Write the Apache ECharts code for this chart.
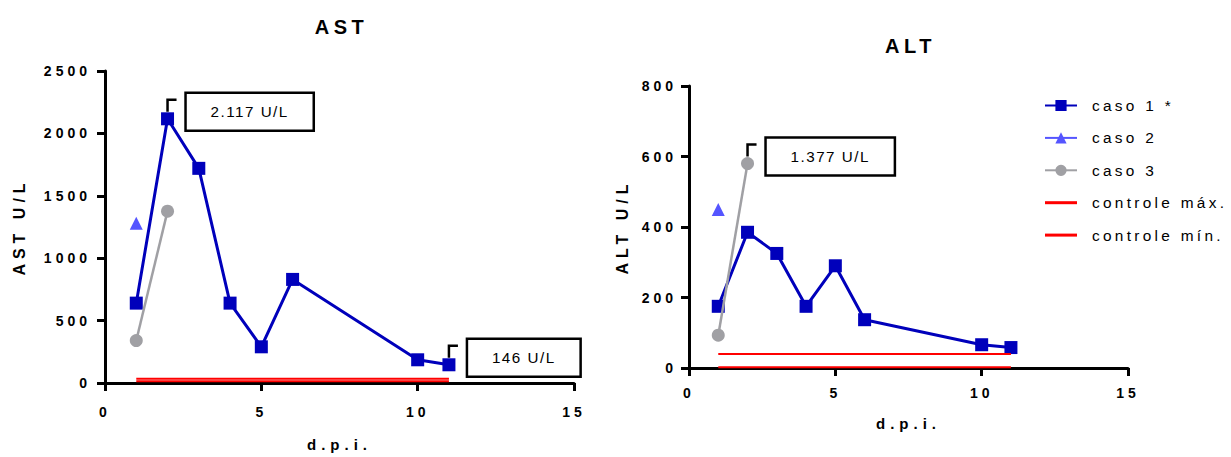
<!DOCTYPE html>
<html>
<head>
<meta charset="utf-8">
<title>AST / ALT</title>
<script src="https://cdn.jsdelivr.net/npm/echarts@6/dist/echarts.min.js"></script>
<style>
  html, body { margin: 0; padding: 0; background: #fff; }
  #chart { width: 1231px; height: 457px; }
  /* wide tracking on the lettering, keyed by font size */
  #chart text[style*="20px"] { letter-spacing: 4.5px; }
  #chart text[style*="16px"] { letter-spacing: 5px; }
  #chart text[style*="15px"] { letter-spacing: 5px; }
  #chart text[style*="14px"] { letter-spacing: 4px; }
  #chart text[style*="15.4px"] { letter-spacing: 3.3px; }
  #chart text[style*="15.2px"] { letter-spacing: 1.5px; }
</style>
</head>
<body>
<div id="chart"></div>
<script>
// days post infection
const dpi = [1, 2, 3, 4, 5, 6, 10, 11];
const caso2Dpi = [1];
const caso3Dpi = [1, 2];
const controlDpi = [1, 11];

// AST (U/L)
const astCaso1 = [640, 2117, 1720, 640, 290, 830, 186, 146];
const astCaso2 = [1280];
const astCaso3 = [340, 1377];
const astControlMax = [35, 35];
const astControlMin = [15, 15];

// ALT (U/L)
const altCaso1 = [175, 385, 325, 175, 290, 137, 66, 58];
const altCaso2 = [450];
const altCaso3 = [93, 580];
const altControlMax = [40, 40];
const altControlMin = [2, 2];

// axis ranges / tick steps
const xRange = [0, 15, 5];
const astRange = [0, 2500, 500];
const altRange = [0, 800, 200];

// callouts: which point they hang from, and the text in the box
const astCalloutIdx = [1, 7];            // caso 1 points
const astCalloutLabels = ['2.117 U/L', '146 U/L'];
const altCalloutIdx = [1];               // caso 3 point
const altCalloutLabels = ['1.377 U/L'];

const FONT = 'Arial, "Liberation Sans", sans-serif';
const BLUE = '#0000BB', LIGHT_BLUE = '#5555FF', GREY = '#A0A0A4', RED = '#FF0000';

const pairs = (xs, ys) => xs.map((x, i) => [x, ys[i]]);
const plain = v => String(v);

function axisX(gridIndex, labelMargin, nameGap) {
  return {
    gridIndex, type: 'value', min: xRange[0], max: xRange[1], interval: xRange[2],
    name: 'd.p.i.', nameLocation: 'middle', nameGap,
    nameTextStyle: { fontSize: 15, fontWeight: 'bold', color: '#000', fontFamily: FONT },
    axisLine: { show: true, onZero: false, lineStyle: { color: '#000', width: 3 } },
    axisTick: { show: true, length: 8, lineStyle: { color: '#000', width: 3 } },
    axisLabel: { fontSize: 14, fontWeight: 'bold', color: '#000', margin: labelMargin, fontFamily: FONT,
                 formatter: plain },
    splitLine: { show: false }
  };
}
function axisY(gridIndex, range, name, labelMargin, nameGap) {
  return {
    gridIndex, type: 'value', min: range[0], max: range[1], interval: range[2],
    name, nameLocation: 'middle', nameGap,
    nameTextStyle: { fontSize: 16, fontWeight: 'bold', color: '#000', fontFamily: FONT },
    axisLine: { show: true, onZero: false, lineStyle: { color: '#000', width: 3 } },
    axisTick: { show: true, length: 8, lineStyle: { color: '#000', width: 3 } },
    axisLabel: { fontSize: 14, fontWeight: 'bold', color: '#000', margin: labelMargin, fontFamily: FONT,
                 formatter: plain },
    splitLine: { show: false }
  };
}
function panelSeries(g, c1, c2, c3, cMax, cMin) {
  const base = { type: 'line', xAxisIndex: g, yAxisIndex: g, animation: false, silent: true,
                 emphasis: { disabled: true } };
  return [
    Object.assign({}, base, { name: 'caso 1 *', data: pairs(dpi, c1), symbol: 'rect', symbolSize: 13,
      color: BLUE, lineStyle: { width: 3, color: BLUE }, z: 3 }),
    Object.assign({}, base, { name: 'caso 2', data: pairs(caso2Dpi, c2), symbol: 'triangle', symbolSize: 13,
      color: LIGHT_BLUE, lineStyle: { width: 3, color: LIGHT_BLUE }, z: 3 }),
    Object.assign({}, base, { name: 'caso 3', data: pairs(caso3Dpi, c3), symbol: 'circle', symbolSize: 13,
      color: GREY, lineStyle: { width: 2.5, color: GREY }, z: 4 }),
    Object.assign({}, base, { name: 'controle máx.', data: pairs(controlDpi, cMax), symbol: 'none',
      color: RED, lineStyle: { width: 2, color: RED }, z: 5 }),
    Object.assign({}, base, { name: 'controle mín.', data: pairs(controlDpi, cMin), symbol: 'none',
      color: RED, lineStyle: { width: 2, color: RED }, z: 5 })
  ];
}

const redIcon = 'path://M0,0H32V3H0Z';

const chart = echarts.init(document.getElementById('chart'), null, { renderer: 'svg' });
chart.setOption({
  animation: false,
  backgroundColor: '#fff',
  textStyle: { fontFamily: FONT },
  grid: [
    { left: 105, top: 71, width: 469, height: 313 },
    { left: 689, top: 86, width: 439, height: 282 }
  ],
  xAxis: [axisX(0, 22, 54), axisX(1, 18, 48)],
  yAxis: [axisY(0, astRange, 'AST U/L', 14, 78), axisY(1, altRange, 'ALT U/L', 12, 59)],
  legend: {
    orient: 'vertical', left: 1039, top: 93,
    itemWidth: 32, itemHeight: 14, itemGap: 17.4,
    selectedMode: false,
    textStyle: { fontSize: 15.4, color: '#000', fontFamily: FONT, lineHeight: 14, padding: [0, 0, 0, 10] },
    data: ['caso 1 *', 'caso 2', 'caso 3',
           { name: 'controle máx.', icon: redIcon },
           { name: 'controle mín.', icon: redIcon }]
  },
  series: panelSeries(0, astCaso1, astCaso2, astCaso3, astControlMax, astControlMin)
    .concat(panelSeries(1, altCaso1, altCaso2, altCaso3, altControlMax, altControlMin))
});

// panel titles and callout boxes, placed from the axes' own scales
const measureCtx = document.createElement('canvas').getContext('2d');
function textWidth(str, font, spacing) {
  measureCtx.font = font;
  return measureCtx.measureText(str).width + spacing * str.length;
}

const elements = [];
function panelTitle(g, text, yMax, lift) {
  const p = chart.convertToPixel({ gridIndex: g }, [(xRange[0] + xRange[1]) / 2, yMax]);
  elements.push({ type: 'text', z: 101, silent: true,
    style: { text, x: p[0] + 2, y: p[1] - lift, textAlign: 'center', textVerticalAlign: 'middle',
             font: 'bold 20px ' + FONT, fill: '#000' } });
}
function callout(g, x, y, label) {
  const p = chart.convertToPixel({ gridIndex: g }, [x, y]);
  const w = textWidth(label, '15.2px Arial', 1.5) + 50;
  elements.push({ type: 'polyline', z: 100, silent: true,
    shape: { points: [[p[0], p[1] - 7], [p[0], p[1] - 19], [p[0] + 9, p[1] - 19]] },
    style: { stroke: '#000', lineWidth: 2.5, fill: null } });
  elements.push({ type: 'rect', z: 100, silent: true,
    shape: { x: p[0] + 18, y: p[1] - 26, width: w, height: 38 },
    style: { fill: '#fff', stroke: '#000', lineWidth: 2.5 } });
  elements.push({ type: 'text', z: 101, silent: true,
    style: { text: label, x: p[0] + 18 + w / 2, y: p[1] - 7, textAlign: 'center',
             textVerticalAlign: 'middle', font: '15.2px ' + FONT, fill: '#000' } });
}

panelTitle(0, 'AST', astRange[1], 44);
panelTitle(1, 'ALT', altRange[1], 40);
astCalloutIdx.forEach((i, k) => callout(0, dpi[i], astCaso1[i], astCalloutLabels[k]));
altCalloutIdx.forEach((i, k) => callout(1, caso3Dpi[i], altCaso3[i], altCalloutLabels[k]));

chart.setOption({ graphic: { elements } });
</script>
</body>
</html>
